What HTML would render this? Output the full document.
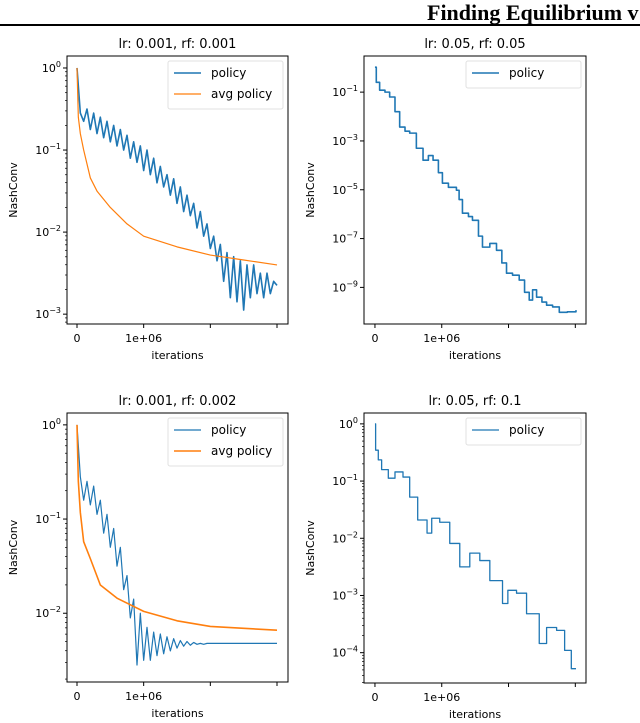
<!DOCTYPE html>
<html><head><meta charset="utf-8"><style>
html,body{margin:0;padding:0;background:#fff;}
svg{display:block;font-family:"DejaVu Sans","Liberation Sans",sans-serif;}
</style></head><body>
<svg id="fig" width="640" height="723" viewBox="0 0 640 723" xmlns="http://www.w3.org/2000/svg">
<text x="427" y="20" font-family="Liberation Serif, serif" font-weight="bold" font-size="22">Finding Equilibrium v</text>
<rect x="0" y="24" width="640" height="2" fill="#000"/>
</svg>
<script>
// ---- data (iterations in units of 1e6, values are log10 NashConv) ----
const tlIter = [0,0.05,0.1,0.15,0.2,0.25,0.3,0.35,0.4,0.45,0.5,0.55,0.6,0.65,0.7,0.75,0.8,0.85,0.9,0.95,1.0,1.05,1.1,1.15,1.2,1.25,1.3,1.35,1.4,1.45,1.5,1.55,1.6,1.65,1.7,1.75,1.8,1.85,1.9,1.95,2.0,2.05,2.1,2.15,2.2,2.25,2.3,2.35,2.4,2.45,2.5,2.55,2.6,2.65,2.7,2.75,2.8,2.85,2.9,2.95,3.0];
const tlPolicy = [0,-0.55,-0.65,-0.5,-0.75,-0.55,-0.8,-0.6,-0.85,-0.65,-0.9,-0.7,-0.95,-0.75,-1.0,-0.82,-1.1,-0.9,-1.15,-0.95,-1.25,-1.0,-1.3,-1.1,-1.4,-1.2,-1.45,-1.3,-1.55,-1.35,-1.65,-1.45,-1.75,-1.55,-1.8,-1.65,-1.95,-1.75,-2.05,-1.9,-2.2,-2.05,-2.35,-2.15,-2.6,-2.25,-2.8,-2.3,-2.85,-2.35,-2.95,-2.4,-2.8,-2.4,-2.75,-2.5,-2.8,-2.5,-2.75,-2.6,-2.65];
const tlAvgIter = [0,0.02,0.05,0.1,0.2,0.3,0.5,0.75,1.0,1.5,2.0,2.5,3.0];
const tlAvg = [0,-0.6,-0.8,-1.0,-1.34,-1.5,-1.7,-1.9,-2.05,-2.18,-2.28,-2.34,-2.4];

const trIter = [0,0.02,0.07,0.15,0.22,0.3,0.37,0.45,0.52,0.62,0.72,0.8,0.87,0.95,1.01,1.1,1.22,1.26,1.31,1.4,1.46,1.55,1.61,1.72,1.82,1.9,1.97,2.06,2.16,2.24,2.31,2.36,2.42,2.5,2.57,2.66,2.76,2.88,3.01];
const trPolicy = [0.02,-0.6,-0.92,-1.0,-1.2,-1.8,-2.43,-2.6,-2.68,-3.3,-3.79,-3.6,-3.79,-4.3,-4.73,-4.9,-5.02,-5.4,-5.96,-6.1,-6.25,-6.9,-7.35,-7.2,-7.48,-8.0,-8.42,-8.5,-8.7,-9.2,-9.52,-9.1,-9.4,-9.6,-9.73,-9.8,-10.02,-10.0,-9.93];

const blIter = tlIter;
const blPolicy = [0,-0.55,-0.8,-0.6,-0.85,-0.65,-0.95,-0.8,-1.15,-0.95,-1.3,-1.1,-1.5,-1.3,-1.75,-1.6,-2.05,-1.85,-2.55,-2.0,-2.5,-2.15,-2.5,-2.2,-2.45,-2.22,-2.43,-2.25,-2.4,-2.27,-2.37,-2.29,-2.35,-2.3,-2.34,-2.31,-2.33,-2.32,-2.33,-2.32,-2.32,-2.32,-2.32,-2.32,-2.32,-2.32,-2.32,-2.32,-2.32,-2.32,-2.32,-2.32,-2.32,-2.32,-2.32,-2.32,-2.32,-2.32,-2.32,-2.32,-2.32];
const blAvgIter = [0,0.02,0.05,0.1,0.2,0.35,0.6,1.0,1.5,2.0,2.5,3.0];
const blAvg = [0,-0.6,-0.93,-1.24,-1.42,-1.7,-1.84,-1.98,-2.08,-2.14,-2.16,-2.18];

const brIter = [0,0.01,0.05,0.1,0.2,0.3,0.42,0.52,0.64,0.78,0.85,0.97,1.12,1.27,1.42,1.57,1.72,1.91,1.99,2.12,2.27,2.46,2.57,2.72,2.84,2.94,3.01];
const brPolicy = [0,-0.46,-0.63,-0.8,-0.95,-0.84,-0.93,-1.28,-1.68,-1.91,-1.65,-1.72,-2.09,-2.5,-2.26,-2.39,-2.74,-3.14,-2.91,-2.96,-3.32,-3.84,-3.56,-3.61,-3.96,-4.28,-4.28];

const xTickVals = [0,1,2,3];
const xTickLabels = ["0","1e+06","",""];

const NS="http://www.w3.org/2000/svg";
const svg=document.getElementById('fig');
function mk(tag,attrs,parent){const e=document.createElementNS(NS,tag);for(const k in attrs)e.setAttribute(k,attrs[k]);(parent||svg).appendChild(e);return e;}

function panel(p){
  const g=mk('g',{});
  
  
  const X=v=>p.L+(v-p.x0)/(p.x1-p.x0)*(p.R-p.L);
  const Y=v=>p.T+(p.y1-v)/(p.y1-p.y0)*(p.B-p.T);
  const t=mk('text',{x:(p.L+p.R)/2,y:p.T-8,'text-anchor':'middle','font-size':13},g);
  t.textContent=p.title;
  
  
  p.series.forEach(s=>{
    let d='';
    s.x.forEach((xv,i)=>{
      const px=X(xv),py=Y(s.y[i]);
      if(i===0)d+='M'+px+' '+py;
      else if(s.step)d+='H'+px+'V'+py;
      else d+='L'+px+' '+py;
    });
    const path=mk('path',{d:d,fill:'none',stroke:s.color,'stroke-width':s.w,'stroke-linejoin':'round'},g);
    
    
  });
  const fr=mk('rect',{x:p.L,y:p.T,width:p.R-p.L,height:p.B-p.T,fill:'none',stroke:'#000','stroke-width':1},g);
  
  
  xTickVals.forEach((v,i)=>{
    const px=X(v);
    mk('line',{x1:px,x2:px,y1:p.B,y2:p.B+4,stroke:'#000'},g);
    if(xTickLabels[i]){
      const tl=mk('text',{x:px,y:p.B+18,'text-anchor':'middle','font-size':11},g);
      tl.textContent=xTickLabels[i];
      
      
    }
  });
  const xl=mk('text',{x:(p.L+p.R)/2,y:p.B+35,'text-anchor':'middle','font-size':11},g);
  xl.textContent='iterations';
  
  
  for(let e=Math.ceil(p.y0);e<=Math.floor(p.y1);e++){
    const py=Y(e);
    if(p.minor){for(let m=2;m<=9;m++){const my=Y(e+Math.log10(m));if(my>p.T&&my<p.B)mk('line',{x1:p.L-2,x2:p.L,y1:my,y2:my,stroke:'#000','stroke-width':0.7},g);}}
    if(p.minor&&e===Math.ceil(p.y0)){for(let m=2;m<=9;m++){const my=Y(e-1+Math.log10(m));if(my>p.T&&my<p.B)mk('line',{x1:p.L-2,x2:p.L,y1:my,y2:my,stroke:'#000','stroke-width':0.7},g);}}
    if(p.yStep&&(e%p.yStep)!==((p.yOff||0)))continue;
    mk('line',{x1:p.L-4,x2:p.L,y1:py,y2:py,stroke:'#000'},g);
    const yt=mk('text',{x:p.L-6,y:py+4,'text-anchor':'end','font-size':11},g);
    
    
    yt.appendChild(document.createTextNode('10'));
    const sp=mk('tspan',{dy:-5,'font-size':8},yt);
    sp.textContent=(e<0?'\u2212'+(-e):String(e));
  }
  const yl=mk('text',{x:0,y:0,'text-anchor':'middle','font-size':11,transform:'translate('+(p.L-50)+','+((p.T+p.B)/2)+') rotate(-90)'},g);
  yl.textContent='NashConv';
  
  
  const lg=mk('g',{},g);
  
  
  const lx=p.R-120, h=p.series.length*21+6;
  mk('rect',{x:lx,y:p.T+5,width:115,height:h,fill:'#fff',stroke:'#e0e0e0','stroke-width':1,rx:2},lg);
  p.series.forEach((s,i)=>{
    const ly=p.T+17+i*21;
    const ln=mk('line',{x1:lx+6,x2:lx+33,y1:ly,y2:ly,stroke:s.color,'stroke-width':s.w},lg);
    
    
    const tx=mk('text',{x:lx+43,y:ly+4,'font-size':12},lg);
    tx.textContent=s.label;
    
    
  });
}

const BLUE='#1f77b4', ORANGE='#ff7f0e';
panel({name:'panel-lr0.001-rf0.001',title:'lr: 0.001, rf: 0.001',L:67,R:288,T:56,B:324,x0:-0.15,x1:3.165,y0:-3.12,y1:0.146,minor:true,
  series:[{x:tlIter,y:tlPolicy,color:BLUE,w:1.6,label:'policy'},{x:tlAvgIter,y:tlAvg,color:ORANGE,w:1.2,label:'avg policy'}]});
panel({name:'panel-lr0.05-rf0.05',title:'lr: 0.05, rf: 0.05',L:364,R:586,T:56,B:324,x0:-0.164,x1:3.16,y0:-10.5,y1:0.48,minor:false,yStep:2,yOff:-1,
  series:[{x:trIter,y:trPolicy,color:BLUE,w:1.6,label:'policy',step:true}]});
panel({name:'panel-lr0.001-rf0.002',title:'lr: 0.001, rf: 0.002',L:67,R:288,T:413,B:682,x0:-0.15,x1:3.165,y0:-2.73,y1:0.126,minor:true,
  series:[{x:blIter,y:blPolicy,color:BLUE,w:1.2,label:'policy'},{x:blAvgIter,y:blAvg,color:ORANGE,w:1.6,label:'avg policy'}]});
panel({name:'panel-lr0.05-rf0.1',title:'lr: 0.05, rf: 0.1',L:364,R:586,T:413,B:683,x0:-0.164,x1:3.16,y0:-4.53,y1:0.19,minor:true,
  series:[{x:brIter,y:brPolicy,color:BLUE,w:1.3,label:'policy',step:true}]});
</script>
</body></html>
